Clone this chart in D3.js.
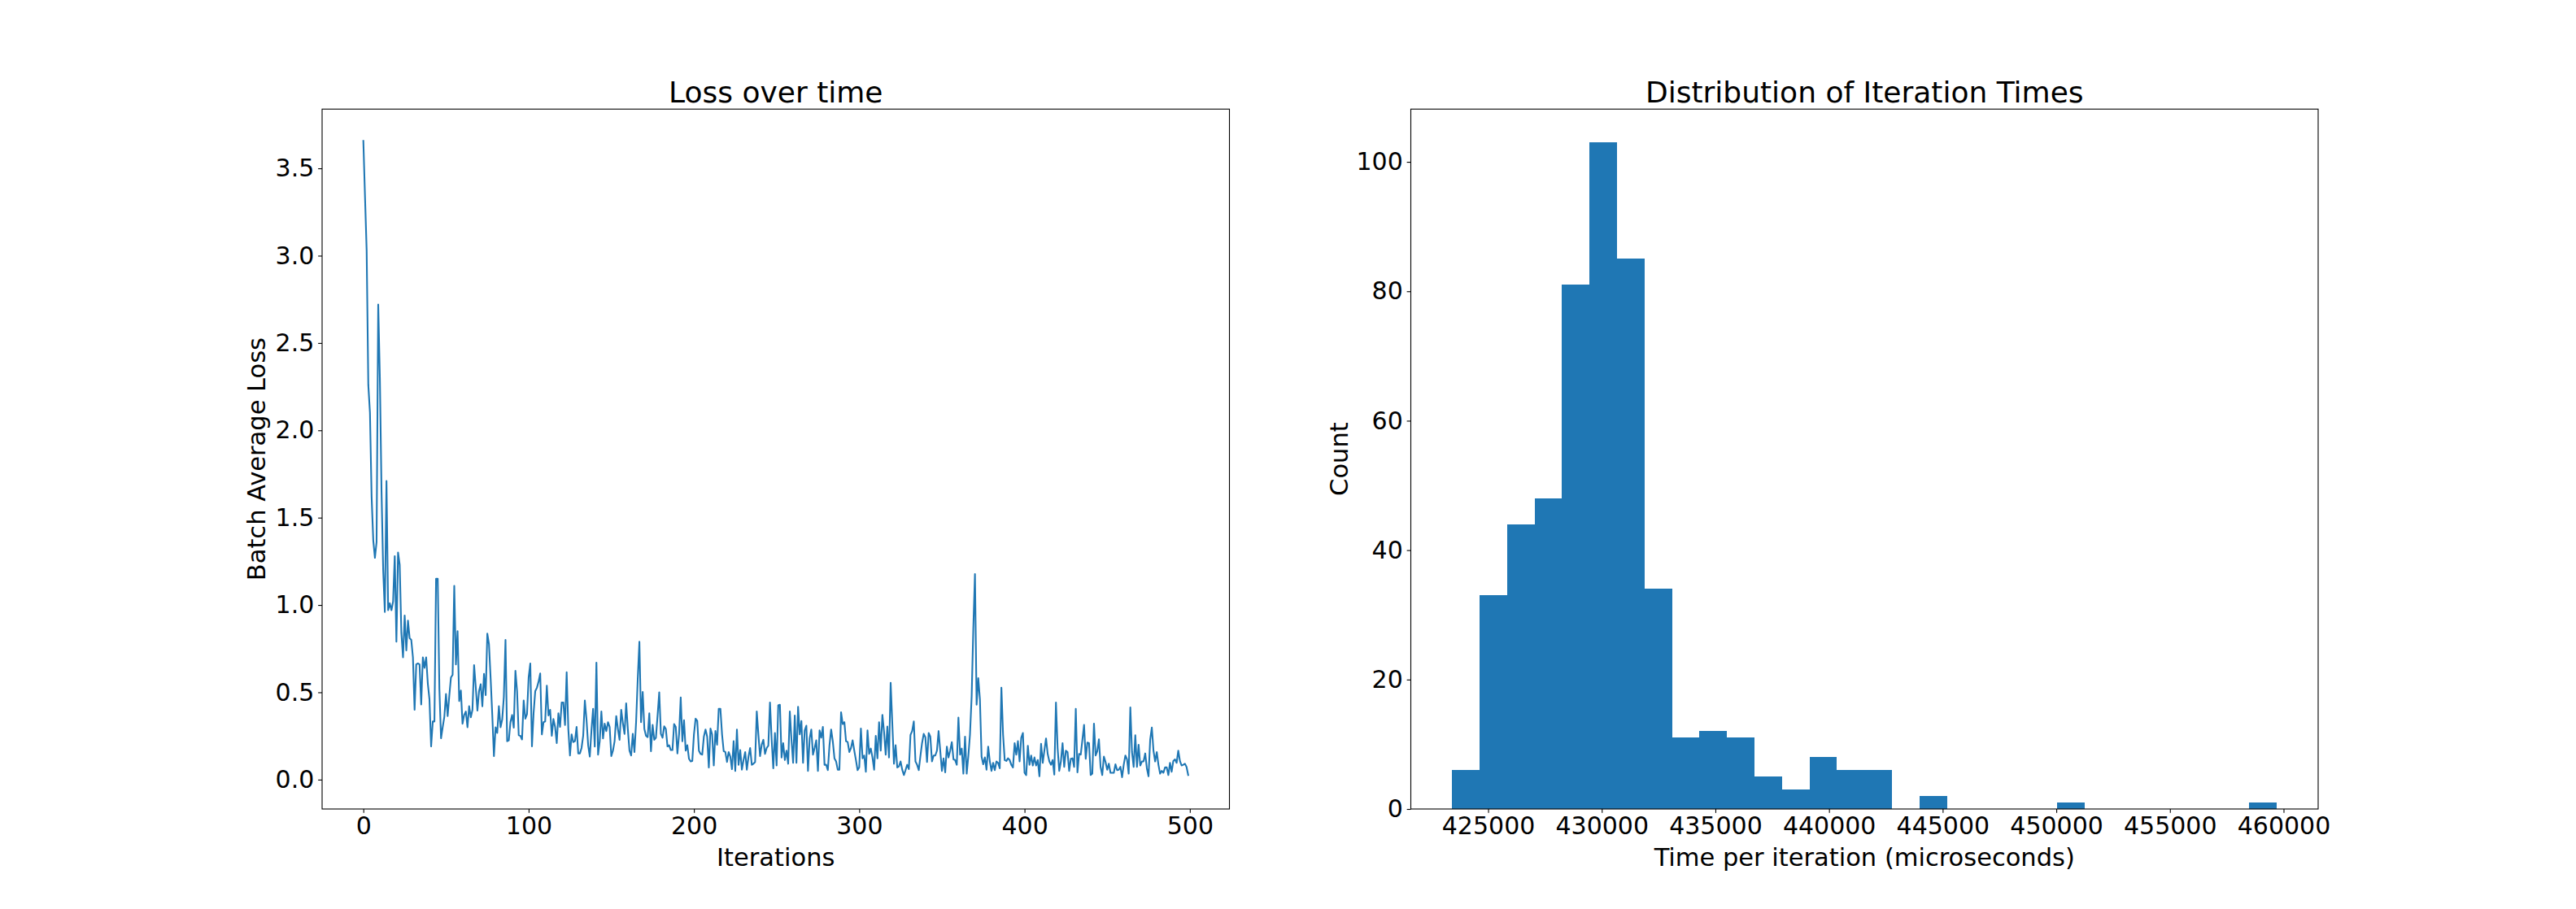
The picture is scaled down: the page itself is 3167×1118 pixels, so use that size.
<!DOCTYPE html>
<html>
<head>
<meta charset="utf-8">
<script src="https://cdn.jsdelivr.net/npm/d3@7"></script>
<style>
  html, body { margin: 0; padding: 0; background: #ffffff; }
  svg { display: block; }
  text { font-family: "DejaVu Sans", sans-serif; fill: #000; }
</style>
</head>
<body>
<svg id="chart" width="3167" height="1118"></svg>
<script>
// ---------- Data ----------
const lossTitle = "Loss over time";
const lossXLabel = "Iterations";
const lossYLabel = "Batch Average Loss";
const lossXTicks = [0, 100, 200, 300, 400, 500];
const lossYTicks = [0.0, 0.5, 1.0, 1.5, 2.0, 2.5, 3.0, 3.5];

// batch average loss per iteration (0..499)
const lossValues = [
  3.657, 3.34, 3.03, 2.26, 2.10, 1.62, 1.37, 1.27, 1.36, 2.72,
  2.30, 1.65, 1.20, 0.96, 1.71, 0.97, 1.01, 0.97, 1.02, 1.28,
  0.79, 1.30, 1.23, 0.84, 0.70, 0.94, 0.74, 0.91, 0.81, 0.80,
  0.70, 0.40, 0.66, 0.665, 0.66, 0.43, 0.70, 0.64, 0.70, 0.55,
  0.46, 0.19, 0.333, 0.333, 1.15, 1.15, 0.52, 0.237, 0.30, 0.36,
  0.49, 0.364, 0.48, 0.585, 0.60, 1.11, 0.66, 0.85, 0.45, 0.51,
  0.32, 0.37, 0.39, 0.30, 0.42, 0.357, 0.40, 0.656, 0.53, 0.395,
  0.507, 0.546, 0.42, 0.606, 0.484, 0.836, 0.776, 0.58, 0.37, 0.135,
  0.30, 0.267, 0.42, 0.30, 0.344, 0.474, 0.80, 0.22, 0.225, 0.33,
  0.37, 0.298, 0.623, 0.507, 0.254, 0.251, 0.23, 0.453, 0.349, 0.375,
  0.585, 0.665, 0.19, 0.383, 0.507, 0.526, 0.561, 0.608, 0.259, 0.329,
  0.333, 0.538, 0.367, 0.40, 0.251, 0.347, 0.302, 0.209, 0.38, 0.302,
  0.442, 0.442, 0.313, 0.615, 0.29, 0.138, 0.259, 0.215, 0.22, 0.302,
  0.15, 0.15, 0.181, 0.251, 0.453, 0.344, 0.197, 0.132, 0.282, 0.406,
  0.189, 0.67, 0.143, 0.22, 0.39, 0.236, 0.32, 0.278, 0.329, 0.302,
  0.135, 0.166, 0.22, 0.364, 0.29, 0.228, 0.40, 0.324, 0.262, 0.437,
  0.29, 0.166, 0.138, 0.262, 0.158, 0.329, 0.577, 0.789, 0.329, 0.502,
  0.29, 0.251, 0.243, 0.38, 0.163, 0.313, 0.228, 0.24, 0.367, 0.50,
  0.262, 0.24, 0.305, 0.29, 0.19, 0.197, 0.169, 0.169, 0.318, 0.302,
  0.15, 0.259, 0.471, 0.22, 0.34, 0.166, 0.197, 0.119, 0.104, 0.107,
  0.259, 0.349, 0.336, 0.166, 0.147, 0.143, 0.246, 0.287, 0.246, 0.07,
  0.293, 0.259, 0.081, 0.278, 0.20, 0.406, 0.406, 0.259, 0.163, 0.158,
  0.101, 0.158, 0.132, 0.06, 0.22, 0.05, 0.287, 0.085, 0.169, 0.057,
  0.112, 0.158, 0.057, 0.132, 0.181, 0.085, 0.091, 0.101, 0.39, 0.256,
  0.135, 0.20, 0.228, 0.147, 0.181, 0.194, 0.442, 0.231, 0.065, 0.267,
  0.081, 0.426, 0.429, 0.127, 0.209, 0.112, 0.166, 0.091, 0.39, 0.228,
  0.096, 0.367, 0.096, 0.417, 0.259, 0.336, 0.096, 0.282, 0.309, 0.05,
  0.236, 0.287, 0.143, 0.181, 0.225, 0.05, 0.282, 0.24, 0.302, 0.085,
  0.085, 0.054, 0.197, 0.287, 0.22, 0.122, 0.104, 0.057, 0.057, 0.386,
  0.318, 0.329, 0.22, 0.215, 0.158, 0.181, 0.225, 0.166, 0.112, 0.054,
  0.07, 0.293, 0.122, 0.138, 0.045, 0.282, 0.147, 0.178, 0.127, 0.057,
  0.251, 0.122, 0.329, 0.166, 0.371, 0.274, 0.143, 0.304, 0.127, 0.554,
  0.321, 0.091, 0.197, 0.07, 0.076, 0.104, 0.057, 0.026, 0.054, 0.085,
  0.06, 0.256, 0.278, 0.333, 0.104, 0.085, 0.054, 0.135, 0.209, 0.262,
  0.243, 0.101, 0.267, 0.246, 0.104, 0.138, 0.138, 0.166, 0.278, 0.166,
  0.05, 0.122, 0.042, 0.189, 0.127, 0.166, 0.215, 0.116, 0.112, 0.085,
  0.355, 0.143, 0.178, 0.034, 0.246, 0.034, 0.135, 0.259, 0.476, 0.864,
  1.177, 0.429, 0.581, 0.46, 0.132, 0.088, 0.127, 0.057, 0.189, 0.104,
  0.05, 0.096, 0.054, 0.104, 0.096, 0.065, 0.526, 0.259, 0.112, 0.107,
  0.122, 0.112, 0.085, 0.07, 0.209, 0.143, 0.22, 0.104, 0.24, 0.267,
  0.039, 0.026, 0.194, 0.085, 0.138, 0.081, 0.127, 0.081, 0.112, 0.019,
  0.205, 0.096, 0.166, 0.236, 0.147, 0.104, 0.085, 0.112, 0.029, 0.442,
  0.181, 0.05, 0.104, 0.209, 0.073, 0.166, 0.158, 0.05, 0.119, 0.122,
  0.073, 0.406, 0.042, 0.147, 0.143, 0.228, 0.313, 0.119, 0.212, 0.209,
  0.026, 0.034, 0.321, 0.138, 0.163, 0.231, 0.073, 0.026, 0.132, 0.101,
  0.057, 0.091, 0.039, 0.039, 0.039, 0.088, 0.054, 0.057, 0.073, 0.014,
  0.085, 0.138, 0.116, 0.034, 0.414, 0.158, 0.073, 0.254, 0.073, 0.20,
  0.081, 0.104, 0.104, 0.15, 0.065, 0.019, 0.228, 0.298, 0.166, 0.104,
  0.158, 0.085, 0.034, 0.05, 0.039, 0.07, 0.07, 0.026, 0.096, 0.045,
  0.107, 0.116, 0.096, 0.166, 0.107, 0.081, 0.085, 0.091, 0.073, 0.026
];

const histTitle = "Distribution of Iteration Times";
const histXLabel = "Time per iteration (microseconds)";
const histYLabel = "Count";
const histXTicks = [425000, 430000, 435000, 440000, 445000, 450000, 455000, 460000];
const histYTicks = [0, 20, 40, 60, 80, 100];
// 30 equal-width bins between the fastest and slowest iteration
const histBinStart = 423413;
const histBinEnd = 459707;
const histCounts = [6, 33, 44, 48, 81, 103, 85, 34, 11, 12,
                    11, 5, 3, 8, 6, 6, 0, 2, 0, 0,
                    0, 0, 1, 0, 0, 0, 0, 0, 0, 1];

// ---------- Layout ----------
const W = 3167, H = 1118;
const axTop = 134.2, axBottom = 995.0;
const leftAx = { x0: 396.0, x1: 1511.5 };
const rightAx = { x0: 1734.5, x1: 2850.0 };
const blue = "#1f77b4";
const tickFont = 30, labelFont = 30.5, titleFont = 36;
const tickLen = 4.86, tickPad = 4.86;

const svg = d3.select("#chart");
svg.append("rect").attr("width", W).attr("height", H).attr("fill", "#fff");

function styleAxis(g) {
  g.selectAll("path.domain").remove();
  g.selectAll(".tick line").attr("stroke", "#000").attr("stroke-width", 1.1);
  g.selectAll(".tick text").attr("font-size", tickFont)
    .attr("font-family", "DejaVu Sans, sans-serif").attr("fill", "#000");
}

function frame(ax) {
  svg.append("rect")
    .attr("x", ax.x0).attr("y", axTop)
    .attr("width", ax.x1 - ax.x0).attr("height", axBottom - axTop)
    .attr("fill", "none").attr("stroke", "#000").attr("stroke-width", 1.1);
}

function padDomain(lo, hi) { const r = hi - lo; return [lo - 0.05 * r, hi + 0.05 * r]; }

// ---------- Left: loss line ----------
{
  const idx = lossValues.map((v, i) => i);
  const x = d3.scaleLinear().domain(padDomain(0, lossValues.length - 1)).range([leftAx.x0, leftAx.x1]);
  const y = d3.scaleLinear().domain(padDomain(d3.min(lossValues), d3.max(lossValues))).range([axBottom, axTop]);

  svg.append("clipPath").attr("id", "clipL").append("rect")
    .attr("x", leftAx.x0).attr("y", axTop).attr("width", leftAx.x1 - leftAx.x0).attr("height", axBottom - axTop);

  svg.append("path")
    .datum(idx)
    .attr("clip-path", "url(#clipL)")
    .attr("fill", "none")
    .attr("stroke", blue)
    .attr("stroke-width", 2.08)
    .attr("stroke-linejoin", "round")
    .attr("stroke-linecap", "square")
    .attr("d", d3.line().x(i => x(i)).y(i => y(lossValues[i])));

  const gx = svg.append("g").attr("transform", `translate(0,${axBottom})`)
    .call(d3.axisBottom(x).tickValues(lossXTicks).tickFormat(d3.format("d"))
      .tickSizeInner(tickLen).tickSizeOuter(0).tickPadding(tickPad));
  styleAxis(gx);
  const gy = svg.append("g").attr("transform", `translate(${leftAx.x0},0)`)
    .call(d3.axisLeft(y).tickValues(lossYTicks).tickFormat(d3.format(".1f"))
      .tickSizeInner(tickLen).tickSizeOuter(0).tickPadding(tickPad));
  styleAxis(gy);
  frame(leftAx);

  const cx = (leftAx.x0 + leftAx.x1) / 2;
  svg.append("text").attr("x", cx).attr("y", 126).attr("text-anchor", "middle")
    .attr("font-size", titleFont).text(lossTitle);
  svg.append("text").attr("x", cx).attr("y", 1065).attr("text-anchor", "middle")
    .attr("font-size", labelFont).text(lossXLabel);
  svg.append("text").attr("transform", `translate(326,${(axTop + axBottom) / 2}) rotate(-90)`)
    .attr("text-anchor", "middle").attr("font-size", labelFont).text(lossYLabel);
}

// ---------- Right: histogram ----------
{
  const nb = histCounts.length;
  const bw = (histBinEnd - histBinStart) / nb;
  const bins = histCounts.map((c, i) => ({ x0: histBinStart + i * bw, x1: histBinStart + (i + 1) * bw, c }));
  const x = d3.scaleLinear().domain(padDomain(histBinStart, histBinEnd)).range([rightAx.x0, rightAx.x1]);
  const y = d3.scaleLinear().domain([0, d3.max(histCounts) * 1.05]).range([axBottom, axTop]);

  svg.append("g").selectAll("rect").data(bins.filter(b => b.c > 0)).join("rect")
    .attr("x", b => x(b.x0))
    .attr("width", b => x(b.x1) - x(b.x0))
    .attr("y", b => y(b.c))
    .attr("height", b => y(0) - y(b.c))
    .attr("fill", blue)
    .attr("shape-rendering", "crispEdges");

  const gx = svg.append("g").attr("transform", `translate(0,${axBottom})`)
    .call(d3.axisBottom(x).tickValues(histXTicks).tickFormat(d3.format("d"))
      .tickSizeInner(tickLen).tickSizeOuter(0).tickPadding(tickPad));
  styleAxis(gx);
  const gy = svg.append("g").attr("transform", `translate(${rightAx.x0},0)`)
    .call(d3.axisLeft(y).tickValues(histYTicks).tickFormat(d3.format("d"))
      .tickSizeInner(tickLen).tickSizeOuter(0).tickPadding(tickPad));
  styleAxis(gy);
  frame(rightAx);

  const cx = (rightAx.x0 + rightAx.x1) / 2;
  svg.append("text").attr("x", cx).attr("y", 126).attr("text-anchor", "middle")
    .attr("font-size", titleFont).text(histTitle);
  svg.append("text").attr("x", cx).attr("y", 1065).attr("text-anchor", "middle")
    .attr("font-size", labelFont).text(histXLabel);
  svg.append("text").attr("transform", `translate(1657,${(axTop + axBottom) / 2}) rotate(-90)`)
    .attr("text-anchor", "middle").attr("font-size", labelFont).text(histYLabel);
}
</script>
</body>
</html>
